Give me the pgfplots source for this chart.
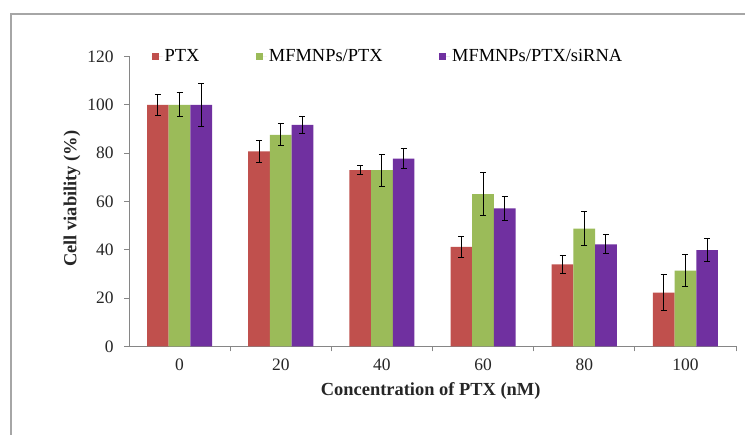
\documentclass[border=0pt]{standalone}
\usepackage{pgfplots}
\pgfplotsset{compat=1.18}
\usepackage{pgfplotstable}
\usepackage{fontspec}
\setmainfont{Liberation Serif}
\definecolor{cRed}{HTML}{C0504D}
\definecolor{cGreen}{HTML}{9BBB59}
\definecolor{cPurple}{HTML}{7030A0}
\definecolor{axgray}{HTML}{868686}
\definecolor{framegray}{HTML}{A6A6A6}

\pgfplotstableread{
x y e
0 100 4.4
1 80.7 4.5
2 73 2
3 41.2 4.4
4 34 3.6
5 22.3 7.6
}\ptx
\pgfplotstableread{
x y e
0 100 5
1 87.6 4.5
2 73 6.6
3 63 9
4 48.8 7.2
5 31.4 6.6
}\mfm
\pgfplotstableread{
x y e
0 100 9
1 91.7 3.6
2 77.7 4.2
3 57.2 5
4 42.3 3.9
5 39.9 4.7
}\mfms

\pgfplotsset{
  myerr/.style={error bars/.cd, y dir=both, y explicit,
    error bar style={black, line width=1bp},
    error mark options={rotate=90, mark size=3bp, black, line width=1bp}},
}

\begin{document}
\begin{tikzpicture}
\useasboundingbox (0,0) rectangle (745bp,435bp);
\fill[white] (0,0) rectangle (745bp,435bp);
\draw[framegray, line width=1.5bp] (11bp,-2bp) -- (11bp,421bp) -- (748bp,421bp);
\begin{axis}[
  at={(129bp,88.5bp)}, anchor=south west,
  scale only axis, width=607bp, height=290bp,
  xmin=-0.5, xmax=5.5, ymin=0, ymax=120,
  axis lines*=left,
  axis line style={axgray, line width=0.8bp, -},
  ybar=0pt, bar width=21.7bp,
  xtick={0,1,2,3,4,5},
  xticklabels={0,20,40,60,80,100},
  minor xtick={0.5,1.5,2.5,3.5,4.5,5.5},
  ytick={0,20,40,60,80,100,120},
  tick align=outside,
  major tick length=5bp,
  minor tick length=5bp,
  x tick style={draw=none},
  minor x tick style={draw=axgray, line width=0.8bp},
  y tick style={draw=axgray, line width=0.8bp},
  /pgf/number format/assume math mode=true,
  tick label style={font=\fontsize{17.5}{20}\selectfont, text=black!85},
  xticklabel style={yshift=-4bp},
  yticklabel style={xshift=-7bp},
  xlabel={\textbf{Concentration of PTX (nM)}},
  ylabel={\textbf{Cell viability (\%)}},
  label style={font=\fontsize{18.5}{22}\selectfont, text=black!85},
  xlabel style={at={(axis description cs:0.497,-0.153)}, anchor=center},
  ylabel style={at={(axis description cs:-0.094,0.51)}, anchor=center},
  legend style={draw=none, fill=none, at={(0.037,1.0)}, anchor=west,
    inner sep=0pt, font=\fontsize{18.5}{22}\selectfont,
    /tikz/every even column/.append style={column sep=54.5bp}},
  legend columns=-1,
  legend image code/.code={\fill[#1] (0bp,-3.5bp) rectangle (7bp,3.5bp); \path (0bp,0bp) -- (11bp,0bp);},
]
\addplot[fill=cRed, draw=none, myerr] table[x=x, y=y, y error=e] {\ptx};
\addplot[fill=cGreen, draw=none, myerr] table[x=x, y=y, y error=e] {\mfm};
\addplot[fill=cPurple, draw=none, myerr] table[x=x, y=y, y error=e] {\mfms};
\legend{PTX, MFMNPs/PTX, MFMNPs/PTX/siRNA}
\end{axis}
\end{tikzpicture}
\end{document}
